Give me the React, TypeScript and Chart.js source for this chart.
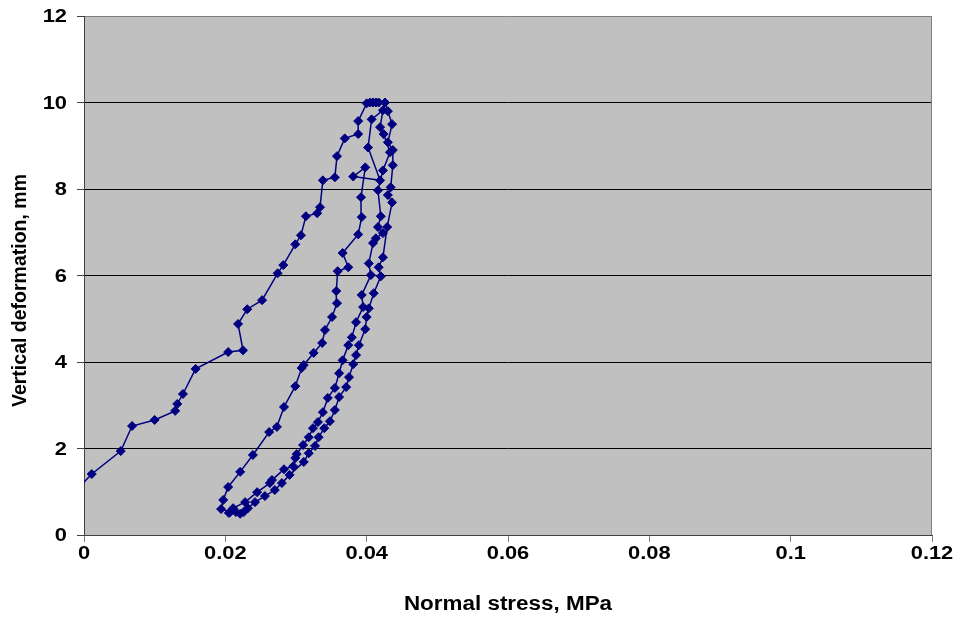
import { useEffect, useRef } from "react";
import { Chart, registerables } from "chart.js";

Chart.register(...registerables);

// Normal stress (MPa) and vertical deformation (mm), in recording order
const stressMPa: number[] = [
  -0.001, 0.0011, 0.0052, 0.0068, 0.0100, 0.0129, 0.0132, 0.0140, 0.0158, 0.0204,
  0.0225, 0.0218, 0.0231, 0.0252, 0.0274, 0.0282, 0.0299, 0.0307, 0.0314, 0.0330,
  0.0334, 0.0338, 0.0355, 0.0358, 0.0369, 0.0388, 0.0388, 0.0400, 0.0405, 0.0409,
  0.0413, 0.0417,
  0.0426, 0.0430, 0.0436, 0.0430, 0.0437, 0.0437, 0.0434, 0.0430, 0.0436, 0.0429,
  0.0423, 0.0417, 0.0420, 0.0410, 0.0403, 0.0400, 0.0398, 0.0389, 0.0385, 0.0381,
  0.0375, 0.0371, 0.0361, 0.0355, 0.0348, 0.0340, 0.0332, 0.0327, 0.0318, 0.0311,
  0.0291, 0.0280, 0.0270, 0.0256, 0.0242, 0.0232, 0.0226, 0.0221, 0.0215, 0.0207,
  0.0194,
  0.0197, 0.0204, 0.0221, 0.0239, 0.0262, 0.0273, 0.0283, 0.0299, 0.0308, 0.0311,
  0.0325, 0.0337, 0.0341, 0.0351, 0.0358, 0.0357, 0.0359, 0.0374, 0.0366, 0.0388,
  0.0393, 0.0392, 0.0398, 0.0381, 0.0419, 0.0402, 0.0407, 0.0423, 0.0419, 0.0424,
  0.0433,
  0.0423, 0.0416, 0.0420, 0.0416, 0.0423, 0.0413, 0.0409, 0.0403, 0.0406, 0.0393,
  0.0395, 0.0385, 0.0379, 0.0374, 0.0366, 0.0361, 0.0355, 0.0345, 0.0338, 0.0331,
  0.0324, 0.0318, 0.0310, 0.0301, 0.0299, 0.0296, 0.0283, 0.0266, 0.0263, 0.0245,
  0.0228, 0.0211, 0.0205,
];

const deformationMm: number[] = [
  1.05, 1.41, 1.94, 2.52, 2.66, 2.87, 3.03, 3.26, 3.84, 4.23,
  4.27, 4.88, 5.22, 5.43, 6.05, 6.24, 6.72, 6.93, 7.37, 7.44,
  7.58, 8.20, 8.27, 8.76, 9.17, 9.27, 9.57, 9.98, 10.0, 10.0,
  10.0, 10.0,
  10.0, 9.80, 9.50, 9.08, 8.90, 8.55, 8.04, 7.86, 7.69, 7.12,
  6.42, 6.19, 5.98, 5.59, 5.24, 5.04, 4.76, 4.39, 4.16, 3.95,
  3.65, 3.42, 3.19, 2.89, 2.63, 2.47, 2.26, 2.06, 1.89, 1.69,
  1.39, 1.20, 1.04, 0.90, 0.76, 0.62, 0.53, 0.49, 0.53, 0.53,
  0.60,
  0.81, 1.11, 1.46, 1.85, 2.38, 2.50, 2.96, 3.44, 3.86, 3.93,
  4.21, 4.44, 4.74, 5.04, 5.36, 5.64, 6.10, 6.19, 6.52, 6.95,
  7.35, 7.81, 8.50, 8.29, 8.20, 8.96, 9.61, 9.82, 9.43, 9.27,
  8.85,
  8.43, 7.97, 7.37, 7.12, 6.98, 6.86, 6.75, 6.28, 6.01, 5.55,
  5.27, 4.92, 4.57, 4.39, 4.04, 3.74, 3.40, 3.17, 2.84, 2.61,
  2.47, 2.26, 2.08, 1.87, 1.78, 1.59, 1.52, 1.27, 1.20, 0.99,
  0.76, 0.62, 0.51,
];

const xTickValues: number[] = [0, 0.02, 0.04, 0.06, 0.08, 0.1, 0.12];
const yTickValues: number[] = [0, 2, 4, 6, 8, 10, 12];

const xAxisTitle = "Normal stress, MPa";
const yAxisTitle = "Vertical deformation, mm";

const FONT_FAMILY = "'Liberation Sans', Arial, Helvetica, sans-serif";
const LABEL_FONT = `bold 19px ${FONT_FAMILY}`;
const TITLE_FONT = `bold 19.5px ${FONT_FAMILY}`;
// Axis text is drawn slightly wide, like the original spreadsheet output
const TEXT_STRETCH = 1.15;
const MARK_COLOR = "#000080";

const formatTick = (v: number) => String(Number(v.toFixed(4)));

// Silver plot area with a grey frame on its top and right sides
const plotFrame = {
  id: "plotFrame",
  beforeDraw(chart: Chart) {
    const { ctx, chartArea } = chart;
    const { left, top, right, bottom } = chartArea;
    ctx.save();
    ctx.fillStyle = "#C0C0C0";
    ctx.fillRect(left, top, right - left, bottom - top);
    ctx.restore();
  },
  beforeDatasetsDraw(chart: Chart) {
    const { ctx, chartArea } = chart;
    const { top, right, bottom } = chartArea;
    const x = Math.round(right) - 0.5;
    ctx.save();
    ctx.strokeStyle = "#808080";
    ctx.lineWidth = 1;
    ctx.beginPath();
    ctx.moveTo(x, top);
    ctx.lineTo(x, bottom);
    ctx.stroke();
    ctx.restore();
  },
};

// Tick labels and axis titles, placed from the scales
const axisText = {
  id: "axisText",
  afterDraw(chart: Chart) {
    const { ctx, chartArea } = chart;
    const xs: any = chart.scales.x;
    const ys: any = chart.scales.y;

    const put = (text: string, x: number, y: number, align: CanvasTextAlign, rot = 0) => {
      ctx.save();
      ctx.translate(x, y);
      if (rot) ctx.rotate(rot);
      if (!rot) ctx.scale(TEXT_STRETCH, 1);
      ctx.textAlign = align;
      ctx.textBaseline = "middle";
      ctx.fillText(text, 0, 0);
      ctx.restore();
    };

    ctx.save();
    ctx.fillStyle = "#000000";

    ctx.font = LABEL_FONT;
    yTickValues.forEach((v) => {
      put(formatTick(v), ys.right - 17, ys.getPixelForValue(v) + 1, "right");
    });
    xTickValues.forEach((v) => {
      put(formatTick(v), xs.getPixelForValue(v), xs.top + 19, "center");
    });

    ctx.font = TITLE_FONT;
    put(xAxisTitle, (chartArea.left + chartArea.right) / 2, xs.top + 70, "center");
    put(
      yAxisTitle,
      21,
      (chartArea.top + chartArea.bottom) / 2 + 15,
      "center",
      -Math.PI / 2
    );
    ctx.restore();
  },
};

export default function App() {
  const canvasRef = useRef<HTMLCanvasElement | null>(null);

  useEffect(() => {
    const canvas = canvasRef.current;
    if (!canvas) return;

    const points = stressMPa.map((x, i) => ({ x, y: deformationMm[i] }));

    const chart = new Chart(canvas, {
      type: "line",
      data: {
        datasets: [
          {
            data: points,
            borderColor: MARK_COLOR,
            borderWidth: 1.5,
            backgroundColor: MARK_COLOR,
            pointStyle: "rectRot",
            pointRadius: 4.5,
            pointBackgroundColor: MARK_COLOR,
            pointBorderColor: MARK_COLOR,
            pointBorderWidth: 1,
            tension: 0,
            fill: false,
          },
        ],
      },
      options: {
        animation: false,
        responsive: false,
        devicePixelRatio: 1,
        layout: { padding: { left: 0, top: 16, right: 25, bottom: 0 } },
        plugins: {
          legend: { display: false },
          tooltip: { enabled: false },
        },
        scales: {
          x: {
            type: "linear",
            min: 0,
            max: 0.12,
            afterBuildTicks(scale: any) {
              scale.ticks = xTickValues.map((value) => ({ value }));
            },
            afterFit(scale: any) {
              scale.height = 86;
            },
            grid: {
              drawOnChartArea: false,
              drawTicks: true,
              tickLength: 7,
              tickColor: "#808080",
            },
            border: { color: "#404040", width: 1 },
            ticks: { display: false, autoSkip: false },
            title: { display: false, text: xAxisTitle },
          },
          y: {
            type: "linear",
            min: 0,
            max: 12,
            afterBuildTicks(scale: any) {
              scale.ticks = yTickValues.map((value) => ({ value }));
            },
            afterFit(scale: any) {
              scale.width = 84;
            },
            grid: {
              drawOnChartArea: true,
              drawTicks: true,
              tickLength: 7,
              color: (c: any) =>
                c.tick && c.tick.value === 12 ? "#808080" : "#000000",
              tickColor: "#404040",
              lineWidth: 1,
            },
            border: { color: "#404040", width: 1 },
            ticks: { display: false, autoSkip: false },
            title: { display: false, text: yAxisTitle },
          },
        },
      },
      plugins: [plotFrame, axisText],
    });

    return () => {
      chart.destroy();
    };
  }, []);

  return (
    <div
      style={{
        position: "absolute",
        left: 0,
        top: 0,
        width: 957,
        height: 621,
        background: "#ffffff",
      }}
    >
      <canvas ref={canvasRef} width={957} height={621} />
    </div>
  );
}
